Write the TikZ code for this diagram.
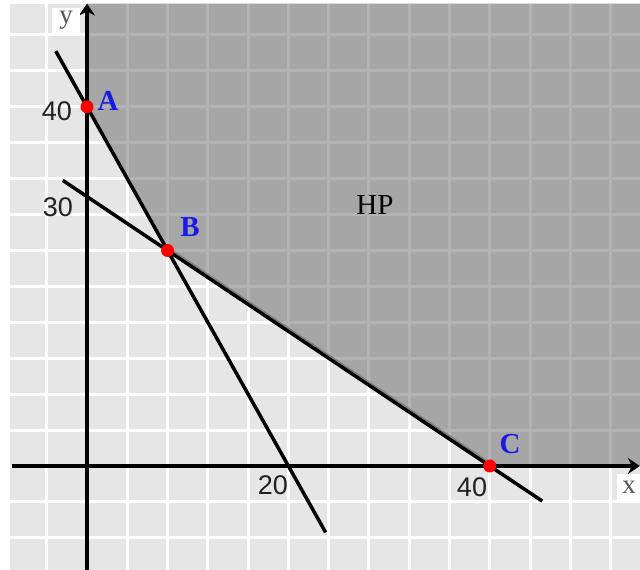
\documentclass[tikz,border=0pt]{standalone}
\usepackage{fontspec}
\setmainfont{Liberation Serif}
\newfontfamily\tickfont{Liberation Sans}
\usetikzlibrary{arrows.meta}
\definecolor{lightbg}{HTML}{E6E6E6}
\definecolor{darkbg}{HTML}{A6A6A6}
\definecolor{darkgrid}{HTML}{B3B3B3}
\definecolor{ticktext}{HTML}{222222}
\definecolor{axlabel}{HTML}{555555}
\definecolor{ptblue}{HTML}{1A1AE6}
\tikzset{
  axisline/.style={line width=3.2pt, -{Stealth[length=12pt,width=16pt,inset=4pt]}},
  conline/.style={line width=3.5pt, black},
  ptdot/.style={circle, fill=red, inner sep=0pt, minimum size=13pt},
  ptlabel/.style={text=ptblue, font=\bfseries\fontsize{29}{29}\selectfont, inner sep=0pt},
  ticklabel/.style={text=ticktext, font=\tickfont\fontsize{27}{27}\selectfont, inner sep=0pt},
  axlab/.style={text=axlabel, fill=white, font=\fontsize{27}{27}\selectfont, inner sep=0pt},
  regionlabel/.style={text=black, font=\fontsize{29}{29}\selectfont, inner sep=0pt}
}
\begin{document}
\begin{tikzpicture}[x=1pt,y=-1pt]
\useasboundingbox (0,0) rectangle (640,570);
\fill[white] (0,0) rectangle (640,570);
\begin{scope}[shift={(87,466)},x=10.07pt,y=8.98pt]
  \def\xmin{-7.65}\def\xmax{54.9}\def\ymin{-11.7}\def\ymax{51.5}
  \fill[lightbg] (\xmin,\ymin) rectangle (\xmax,\ymax);
  \foreach \gx in {-4,0,...,52} \draw[white, line width=3pt] (\gx,\ymin) -- (\gx,\ymax);
  \foreach \gy in {-8,-4,...,48} \draw[white, line width=3pt] (\xmin,\gy) -- (\xmax,\gy);
  \fill[darkbg] (0,\ymax) -- (0,40) -- (8,24) -- (40,0) -- (\xmax,0) -- (\xmax,\ymax) -- cycle;
  \begin{scope}
    \clip (0,\ymax) -- (0,40) -- (8,24) -- (40,0) -- (\xmax,0) -- (\xmax,\ymax) -- cycle;
    \foreach \gx in {4,8,...,52} \draw[darkgrid, line width=3pt] (\gx,0) -- (\gx,\ymax);
    \foreach \gy in {4,8,...,48} \draw[darkgrid, line width=3pt] (0,\gy) -- (\xmax,\gy);
  \end{scope}
  % named points
  \coordinate (A) at (0,40);
  \coordinate (B) at (8,24);
  \coordinate (C) at (40,0);
  \coordinate (L1s) at (-3.1,46.2);
  \coordinate (L1e) at (23.7,-7.4);
  \coordinate (L2s) at (-2.4,31.8);
  \coordinate (L2e) at (45.2,-3.9);
  \coordinate (xs) at (-7.4,0);
  \coordinate (xe) at (\xmax,0);
  \coordinate (ys) at (0,\ymin);
  \coordinate (ye) at (0,\ymax);
  % shadow along BC
  \draw[gray, line width=1.5pt] ([yshift=3.2pt]B) -- ([yshift=3.2pt]C);
  % axes
  \draw[axisline] (xs) -- (xe);
  \draw[axisline] (ys) -- (ye);
  % constraint lines
  \draw[conline] (L1s) -- (L1e);
  \draw[conline] (L2s) -- (L2e);
  % points
  \node[ptdot] (pA) at (A) {};
  \node[ptdot] (pB) at (B) {};
  \node[ptdot] (pC) at (C) {};
\end{scope}
% labels (pixel coordinates)
\node[ptlabel] (lA) at (108,101) {A};
\node[ptlabel] (lB) at (190,227) {B};
\node[ptlabel] (lC) at (510,444) {C};
\node[regionlabel] (hp) at (375,205) {HP};
\node[ticklabel] (t40y) at (57,111) {40};
\node[ticklabel] (t30y) at (58,207) {30};
\node[ticklabel] (t20x) at (273,485) {20};
\node[ticklabel] (t40x) at (472,487) {40};
\node[axlab, minimum width=28pt, minimum height=25pt] (ylab) at (66,20) {y};
\node[axlab, minimum width=24pt, minimum height=27pt] (xlab) at (629,487) {x};
\end{tikzpicture}
\end{document}
